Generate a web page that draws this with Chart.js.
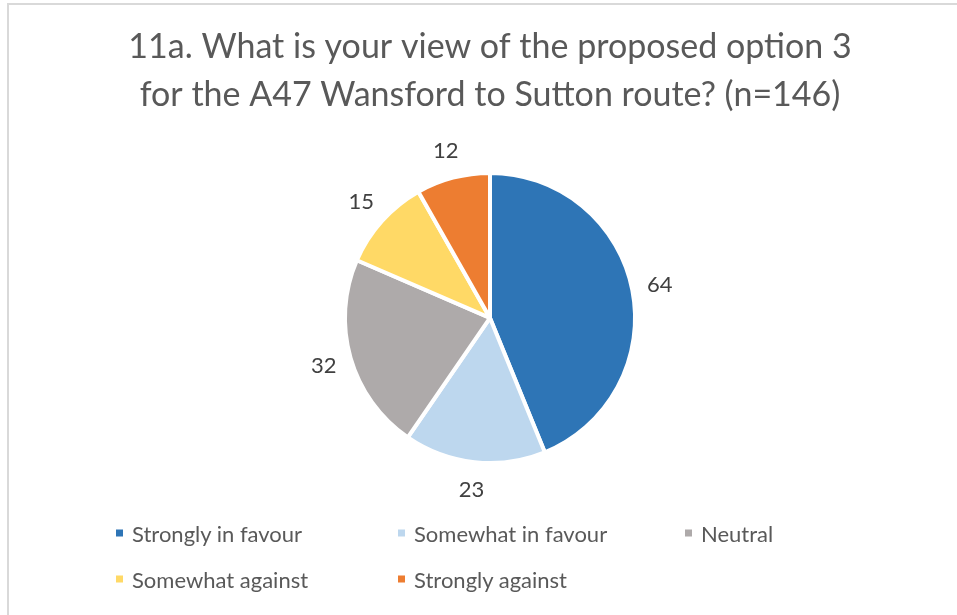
<!DOCTYPE html>
<html>
<head>
<meta charset="utf-8">
<script src="https://cdn.jsdelivr.net/npm/chart.js@4.4.1/dist/chart.umd.min.js"></script>
<style>
  html, body { margin: 0; padding: 0; background: #fff; }
  body { width: 957px; height: 615px; overflow: hidden; position: relative; font-family: Lato, sans-serif; }
  #frame { position: absolute; left: 7px; top: 3px; width: 1000px; height: 700px;
           border-left: 2px solid #d9d9d9; border-top: 2px solid #d9d9d9; }
  #chartBox { position: absolute; left: 0; top: 0; width: 957px; height: 615px; }
  #legend { position: absolute; left: 0; top: 0; width: 957px; height: 615px; pointer-events: none; }
  .item { position: absolute; font-size: 22px; color: #595959; white-space: nowrap;
          transform: translateY(-50%); display: flex; align-items: center; }
  .swatch { width: 7px; height: 7px; margin-right: 9px; display: inline-block; }
</style>
</head>
<body>
<div id="frame"></div>
<div id="chartBox"><canvas id="pieChart"></canvas></div>
<div id="legend"></div>
<script>
// Responses to question 11a
const titleLines = [
  "11a. What is your view of the proposed option 3",
  "for the A47 Wansford to Sutton route? (n=146)",
];
const categories = [
  "Strongly in favour",
  "Somewhat in favour",
  "Neutral",
  "Somewhat against",
  "Strongly against",
];
const counts = [64, 23, 32, 15, 12];
const sliceColors = ["#2E75B6", "#BDD7EE", "#AEAAAA", "#FFD966", "#ED7D31"];

// Legend grid: column x positions and row y positions
const legendCols = [116, 398, 685];
const legendRows = [533, 579];

// Numbers outside each slice
const sliceLabels = {
  id: "sliceLabels",
  afterDatasetsDraw(chart) {
    const ctx = chart.ctx;
    const meta = chart.getDatasetMeta(0);
    ctx.save();
    ctx.font = "22px Lato";
    ctx.fillStyle = "#404040";
    ctx.textAlign = "center";
    ctx.textBaseline = "middle";
    meta.data.forEach((arc, i) => {
      const mid = (arc.startAngle + arc.endAngle) / 2;
      const r = arc.outerRadius + 28;
      ctx.fillText(counts[i], arc.x + Math.cos(mid) * r, arc.y + Math.sin(mid) * r);
    });
    ctx.restore();
  },
};

new Chart(document.getElementById("pieChart"), {
  type: "pie",
  data: {
    labels: categories,
    datasets: [
      {
        data: counts,
        backgroundColor: sliceColors,
        borderColor: "#ffffff",
        borderWidth: 4,
      },
    ],
  },
  options: {
    responsive: true,
    maintainAspectRatio: false,
    animation: false,
    layout: {
      padding: { left: 23, top: 0, right: 0, bottom: 150 },
    },
    plugins: {
      legend: { display: false },
      tooltip: { enabled: false },
      title: {
        display: true,
        text: titleLines,
        color: "#595959",
        font: { family: "Lato", size: 34, weight: "normal", lineHeight: 1.41 },
        padding: { top: 23, bottom: 52 },
      },
    },
  },
  plugins: [sliceLabels],
});

// Build the legend from the category list
const legend = document.getElementById("legend");
categories.forEach((name, i) => {
  const item = document.createElement("div");
  item.className = "item";
  item.style.left = legendCols[i % 3] + "px";
  item.style.top = legendRows[Math.floor(i / 3)] + "px";
  const sw = document.createElement("span");
  sw.className = "swatch";
  sw.style.background = sliceColors[i];
  item.appendChild(sw);
  item.appendChild(document.createTextNode(name));
  legend.appendChild(item);
});
</script>
</body>
</html>
